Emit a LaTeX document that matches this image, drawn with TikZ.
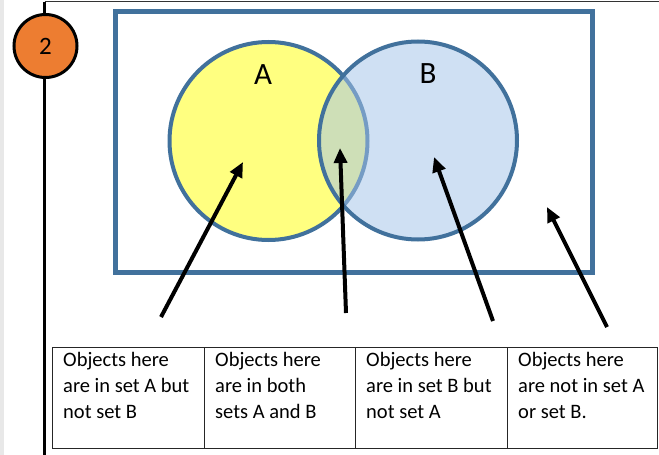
\documentclass[tikz,border=0pt]{standalone}
\usepackage{fontspec}
\setmainfont{Carlito}
\usetikzlibrary{arrows.meta}
\definecolor{setline}{HTML}{41719C}
\definecolor{setAfill}{HTML}{FFFF80}
\definecolor{setBfill}{HTML}{A4C4E8}
\definecolor{badgefill}{HTML}{ED7D31}
\begin{document}
\begin{tikzpicture}[x=1pt,y=-1pt,
  setcircle/.style={circle, draw=setline, line width=4pt, minimum size=198pt, inner sep=0pt},
  pointer/.style={line width=4pt, line cap=butt, -{Triangle[length=15pt,width=13pt]}},
  cell/.style={draw=black!85, line width=1pt, minimum height=101pt, inner sep=0pt, anchor=north west},
  celltext/.style={anchor=north west, align=left, inner sep=0pt, font=\fontsize{20.5}{26}\selectfont},
  setlabel/.style={inner sep=0pt, font=\fontsize{31}{36}\selectfont}
]
\useasboundingbox (0,0) rectangle (659,455);

% page margin strip and binding rule
\fill[gray!18] (0,0) rectangle (4,455);
\coordinate (railtop) at (44.5,1.5);
\coordinate (railbot) at (44.5,455);
\coordinate (ruleend) at (659,1.5);
\draw[line width=3pt] (railtop) -- (railbot);
\draw[line width=1.5pt, black!80] (railtop) -- (ruleend);

% step number badge
\node[circle, fill=badgefill, draw=black, line width=3pt, minimum size=63pt,
      inner sep=0pt, font=\fontsize{25}{30}\selectfont] (badge) at (45.5,46) {2};

% universal set
\node[draw=setline, line width=5pt, minimum width=477.5pt, minimum height=261pt,
      inner sep=0pt, anchor=north west] (universe) at (112.5,9) {};

% sets A and B
\node[setcircle, fill=setAfill] (setA) at (268.5,141) {};
\node[setcircle, fill=setBfill, fill opacity=0.53] (setB) at (418,140.5) {};
\node[setlabel] (labA) at (263,75) {A};
\node[setlabel] (labB) at (428,74) {B};

% explanation table
\node[cell, minimum width=152pt] (cellA)  at (52,347)  {};
\node[cell, minimum width=151pt] (cellAB) at (204,347) {};
\node[cell, minimum width=152pt] (cellB)  at (355,347) {};
\node[cell, minimum width=150pt] (cellU)  at (507,347) {};

\node[celltext] (txtA)  at ([xshift=11pt, yshift=-5pt]cellA.north west)  {Objects here\\are in set A but\\not set B};
\node[celltext] (txtAB) at ([xshift=11pt, yshift=-5pt]cellAB.north west) {Objects here\\are in both\\sets A and B};
\node[celltext] (txtB)  at ([xshift=11pt, yshift=-5pt]cellB.north west)  {Objects here\\are in set B but\\not set A};
\node[celltext] (txtU)  at ([xshift=11pt, yshift=-5pt]cellU.north west)  {Objects here\\are not in set A\\or set B.};

% pointers from the table to the regions
\coordinate (tailA)  at (161,317);  \coordinate (tipA)  at (243,162);
\coordinate (tailAB) at (346,313);  \coordinate (tipAB) at (340,148);
\coordinate (tailB)  at (493,321);  \coordinate (tipB)  at (434,157);
\coordinate (tailU)  at (607,327);  \coordinate (tipU)  at (547,207);
\draw[pointer] (tailA)  -- (tipA);
\draw[pointer] (tailAB) -- (tipAB);
\draw[pointer] (tailB)  -- (tipB);
\draw[pointer] (tailU)  -- (tipU);
\end{tikzpicture}
\end{document}
